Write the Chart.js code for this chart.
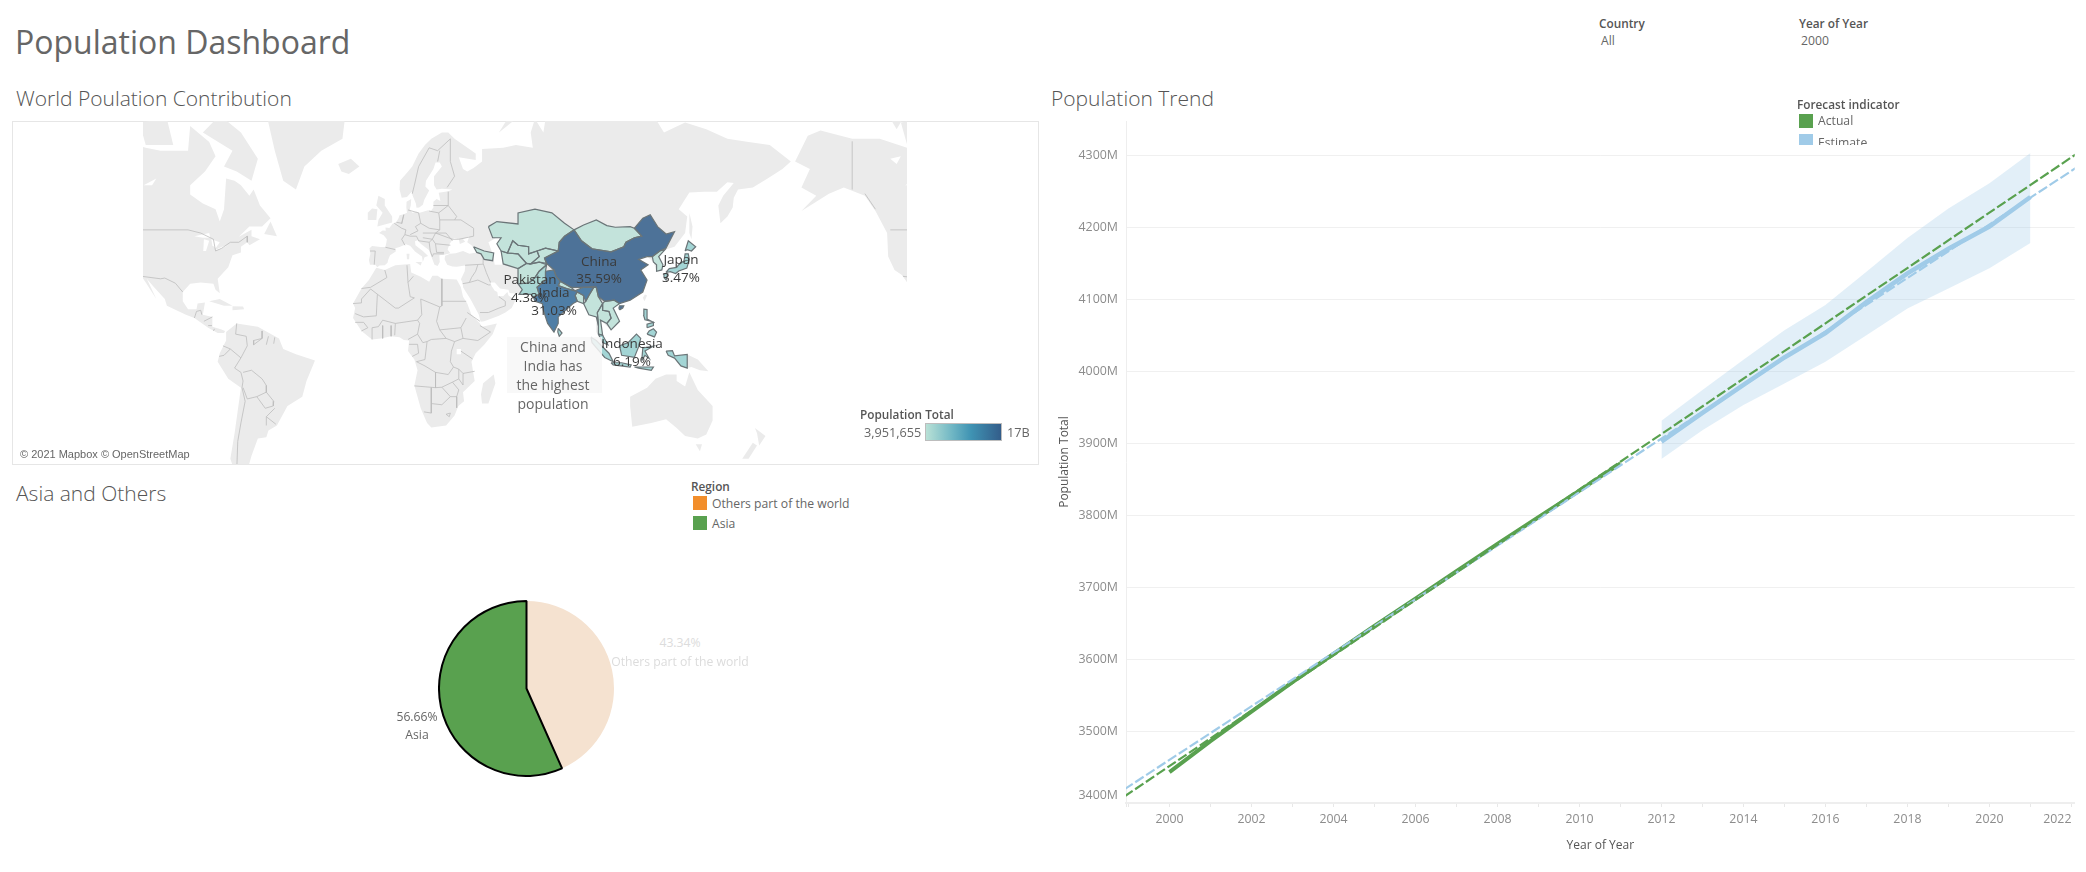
<!DOCTYPE html>
<html>
<head>
<meta charset="utf-8">
<title>Population Dashboard</title>
<script src="https://cdn.jsdelivr.net/npm/chart.js@4"></script>
<style>
  body { margin: 0; width: 2086px; height: 872px; background: #fff; overflow: hidden; position: relative; font-family: "Open Sans", sans-serif; color: #666; }
  canvas { position: absolute; }
  .t { position: absolute; white-space: nowrap; transform: translateY(-53%); font-size: 12.2px; }
  .c { transform: translate(-50%, -53%); }
  .head { font-size: 21px; font-weight: 300; color: #555; }
  .bold { font-weight: 600; color: #555; font-size: 11.8px; }
  .swatch { position: absolute; width: 14px; height: 14px; }
  #frame { position: absolute; left: 12px; top: 121px; width: 1025px; height: 342px; border: 1px solid #e6e6e6; }
  #note { position: absolute; left: 507px; top: 337px; width: 95px; height: 56px; background: #f7f7f7; opacity: .85; }
  #stamp { position: absolute; left: 14px; top: 444px; width: 179px; height: 19px; background: rgba(255,255,255,.7); }
  #ramp { position: absolute; left: 925px; top: 423px; width: 75px; height: 16px; border: 1.5px solid #bdbdbd; background: linear-gradient(to right, #b9e1d6, #6fb6c4 35%, #3f93b3 60%, #335d8a); }
  #fcLegend { position: absolute; left: 1790px; top: 96px; width: 120px; height: 49px; overflow: hidden; }
</style>
</head>
<body>
<div class="t" style="left:15px;top:43px;font-size:32px;color:#666">Population Dashboard</div>
<div class="t head" style="left:16px;top:99px">World Poulation Contribution</div>
<div class="t head" style="left:16px;top:494px">Asia and Others</div>
<div class="t head" style="left:1051px;top:99px">Population Trend</div>

<div class="t bold" style="left:1599px;top:23px">Country</div>
<div class="t" style="left:1601px;top:41px">All</div>
<div class="t bold" style="left:1799px;top:23px">Year of Year</div>
<div class="t" style="left:1801px;top:41px">2000</div>

<div id="frame"></div>
<canvas id="mapChart" width="764" height="343" style="left:143px;top:121px"></canvas>
<div id="stamp"></div>
<div class="t" style="left:20px;top:454px;font:11px 'Liberation Sans',sans-serif;color:#666">© 2021 Mapbox © OpenStreetMap</div>
<div id="note"></div>
<div class="t c" style="left:553px;top:347px;font-size:14px">China and</div>
<div class="t c" style="left:553px;top:366px;font-size:14px">India has</div>
<div class="t c" style="left:553px;top:385px;font-size:14px">the highest</div>
<div class="t c" style="left:553px;top:404px;font-size:14px">population</div>
<div id="mapLabels"></div>

<div class="t bold" style="left:860px;top:414px">Population Total</div>
<div class="t" style="left:864px;top:433px;font-size:12.7px">3,951,655</div>
<div id="ramp"></div>
<div class="t" style="left:1007px;top:433px;font-size:12.7px">17B</div>

<canvas id="pieChart" width="177" height="177" style="left:438px;top:599.5px"></canvas>
<div id="pieLabels"></div>
<div class="t bold" style="left:691px;top:486px">Region</div>
<div class="swatch" style="left:693px;top:496px;background:#f28e2b"></div>
<div class="t" style="left:712px;top:504px">Others part of the world</div>
<div class="swatch" style="left:693px;top:516px;background:#59a14f"></div>
<div class="t" style="left:712px;top:524px">Asia</div>

<canvas id="trendChart" width="1043" height="772" style="left:1043px;top:100px"></canvas>

<div id="fcLegend">
  <div class="t bold" style="left:7px;top:8px">Forecast indicator</div>
  <div class="swatch" style="left:9px;top:18px;background:#59a14f"></div>
  <div class="t" style="left:28px;top:25px">Actual</div>
  <div class="swatch" style="left:9px;top:38px;background:#a0cbe8"></div>
  <div class="t" style="left:28px;top:47px">Estimate</div>
</div>

<script>
/* -----------trend data (millions)------------- */
const years = [2000, 2001, 2002, 2003, 2004, 2005, 2006, 2007, 2008, 2009, 2010, 2011];
const actualValues = [3443, 3486, 3527, 3568, 3607, 3646, 3684, 3722, 3760, 3797, 3834, 3872];
const forecastYears = [2012, 2013, 2014, 2015, 2016, 2017, 2018, 2019, 2020, 2021];
const estimateValues = [3902, 3942, 3981, 4019, 4053, 4096, 4136, 4170, 4201, 4242];
const upperValues = [3931, 3974, 4016, 4057, 4092, 4138, 4185, 4226, 4261, 4303];
const lowerValues = [3878, 3918, 3953, 3983, 4013, 4050, 4087, 4115, 4143, 4178];
const trendYears = [1998.9, 2022.1];
const actualTrend = [3409, 4301];
const estimateTrend = [3419, 4282];
const yTicks = [3400, 3500, 3600, 3700, 3800, 3900, 4000, 4100, 4200, 4300];
const xLabels = [2000, 2002, 2004, 2006, 2008, 2010, 2012, 2014, 2016, 2018, 2020, 2022];
const xMarks = [1999, 2000, 2001, 2002, 2003, 2004, 2005, 2006, 2007, 2008, 2009, 2010, 2011, 2012, 2013, 2014, 2015, 2016, 2017, 2018, 2019, 2020, 2021, 2022];

/* -----------pie data------------- */
const regions = ['Others part of the world', 'Asia'];
const regionShares = [43.34, 56.66];

/* -----------map labels------------- */
const labelNames = ['China', 'Japan', 'Pakistan', 'India', 'Indonesia'];
const labelShares = ['35.59%', '3.47%', '4.38%', '31.03%', '6.19%'];

/* -----------map outlines [lon, lat]------------- */
const africa = [[-6,35.8],[-2,35],[3,36.8],[10,37.3],[10.5,34],[15,32.3],[19,30.3],[20.5,32.7],[23,32.7],[25,31.5],[32,31.2],[34,28],[35,24],[37,21],[39,16],[43,12],[44,10.5],[51,12],[49,7],[45,2],[41,-2],[39,-6],[40.5,-15],[35,-20],[35.5,-24],[32.8,-26],[31,-30],[27,-34],[20,-34.8],[18,-33],[15,-27],[12,-17],[13.5,-10],[12,-5],[9,-1],[9.5,4],[7,4.3],[5,5.5],[1,6],[-4,5],[-8,4.5],[-13,8.5],[-17,14.5],[-16,19],[-17,21],[-13,27.5],[-9.5,31]];
const eurasia = [[-5.5,36],[-6.5,37],[-9,37],[-9.5,38.8],[-8.8,41],[-9.2,43],[-8,43.7],[-4,43.4],[-1.7,43.4],[-1.2,45],[-1,46],[-2.5,47.3],[-4.7,48],[-3,48.8],[-1.5,48.7],[-1.7,49.7],[0.2,49.6],[1.7,50.9],[3.5,51.4],[4.5,52.5],[5,53.3],[7,53.6],[8.5,54],[8.2,55.5],[8.3,57],[10.5,57.7],[10.3,56],[9.8,55],[11,54],[13,54.3],[14.5,54],[18.5,54.7],[19.8,54.5],[21,55.5],[21,57],[22.5,57.7],[24.3,57.2],[23.5,59.2],[28,59.6],[30,60],[25,60.2],[22.5,60],[21.3,61],[21.3,63],[25,65],[24,65.8],[22,65.8],[21,64.5],[17.5,62],[17.2,60.7],[19,59.8],[16.7,57.5],[16,56.2],[14.3,55.5],[13,55.4],[12.7,56.5],[11.2,58.5],[10.7,59.5],[8.5,58.2],[6,58],[5,60],[5.2,62],[8,63.5],[11,65],[14,67.5],[17,69],[20,70],[25,71],[28,71],[31,70],[41,67.5],[41,66.3],[33,66.8],[35,64.5],[37,64],[40,64.7],[44,66],[44,68.3],[54,68.5],[60,69],[68,68.5],[67,71],[69,73],[73,71],[74,73],[80,73],[87,75],[100,76.5],[104,77.5],[112,75],[113,73.5],[125,73.5],[130,71],[140,72.5],[150,71.5],[160,70],[170,69.5],[180,69],[190,66],[186,64.5],[179,62.5],[172,60.5],[165,60],[163,58],[162.5,55.5],[160,53],[156.7,51],[155.7,56],[158,58.5],[163,61.5],[160,61.7],[155,59.5],[149,59.5],[142,59.3],[137,55],[141,53],[140,48],[135,43.5],[130.7,42.5],[127.5,40],[129.5,37],[126.5,34.5],[125,38],[122,40],[118,39],[122.5,37],[119,35],[122,31],[120,26],[114,22.5],[109,21],[106,19],[109,13],[105,9],[100,13.5],[99,10],[103.5,2],[101,3],[98,8],[98,15],[94.5,16],[92,21],[89,22],[87,21],[80,15],[80,12],[78,8],[75,12],[73,18],[72.5,21],[69,22],[67,25],[61.5,25.2],[57,25.6],[56.5,27],[52.5,27.5],[50,30],[48,30],[48.5,28.5],[50,26.5],[51.2,26],[51.5,24.3],[54,24.2],[56,26],[56.5,24.5],[59.8,22.5],[58,19],[55,17],[52,15.5],[45,13],[43.3,12.8],[42.5,16],[38.5,23],[36,26.5],[35,28],[34.9,29.5],[34,31.3],[35.8,34.5],[36,36],[36,36.7],[32,36.2],[30,36.3],[27.5,37],[26.3,39],[26.5,40.3],[29,41],[31.5,41.2],[35,42],[38,41],[41.5,41.5],[39,44],[37,45],[38,47],[35,46],[36,45.2],[33.5,44.4],[33,46],[30.7,46.5],[28.7,44.5],[27.7,42.5],[29,41.2],[26,40.7],[23.8,40.5],[24,38],[23,36.5],[21.5,37],[19.5,41],[19,42.3],[15,44.5],[13.5,45.7],[12.3,45.3],[12.5,44],[16,42],[18.5,40.2],[16.8,39.8],[16,38],[15.6,40],[12.3,41.8],[10,43.8],[8,44.3],[5,43.4],[3,43],[3.2,41.8],[0.5,40.5],[-0.3,39],[-0.7,37.7],[-2,36.8],[-4.5,36.7]];
const northAmerica = [[-168,66],[-162,70.5],[-156,71.3],[-141,70],[-128,70],[-115,68.5],[-108,68],[-95,68],[-94,72],[-85,69.5],[-82,67],[-87,64],[-94,61],[-94,58.8],[-88,56.5],[-82,55],[-80,51.5],[-78,55],[-77,62.5],[-73,62],[-70,61],[-66,58.5],[-64,60],[-61,56],[-56,52.5],[-60,50],[-66,50],[-71,46.8],[-65,49],[-65,47],[-61,46],[-66,44],[-67,45],[-70,43.5],[-70,41.5],[-74,40.5],[-76,36],[-81,31.5],[-80,25.5],[-82,27],[-83,29.5],[-89,30],[-94,29.5],[-97.5,26],[-97.5,22],[-95,18.5],[-91,18.5],[-90.5,21],[-87,21.5],[-88,16],[-83.5,15],[-83.5,10.5],[-79.5,9.3],[-77.5,8.5],[-78,7.5],[-81,7.5],[-85.5,10],[-92,14.5],[-96,16],[-105,20],[-106,23],[-112,29],[-114.5,31.5],[-110,23],[-115,30],[-117.5,33],[-121,35],[-124,40],[-124.5,48],[-130,54.5],[-135,58.5],[-145,60.5],[-152,59],[-165,54.5],[-158,58.5],[-165,60.5],[-161,64.5]];
const southAmerica = [[-77,8],[-72,12],[-62,10.5],[-52,5],[-50,0],[-44,-2.5],[-35,-5.5],[-39,-15],[-41,-22],[-48,-26],[-53,-34],[-57,-36],[-58,-38.5],[-62,-39],[-65,-45],[-68,-52],[-72,-52],[-75,-46],[-73,-37],[-70,-18],[-76,-14],[-81,-6],[-80,-2],[-77,4]];
const australia = [[114,-22],[122,-18],[126,-14],[131,-12],[136,-12],[136,-15],[140,-17.5],[142,-11],[146,-19],[153,-26],[153,-32],[150,-37.5],[146,-39],[140,-38],[136,-35],[131,-31.5],[124,-33],[115,-34.5],[114,-26]];
const islands = [
  [[-5.5,50],[1.5,51.2],[1.5,53],[-2,56],[-2,57.7],[-5,58.5],[-6,56],[-3,54],[-5,52]],
  [[-10,52],[-6,52],[-5.5,55],[-8,55.2],[-10,54]],
  [[-24,65.5],[-18,66.5],[-14,65],[-19,63.5],[-22.5,64]],
  [[49.5,-12],[50.3,-16],[47,-25],[44,-25],[43.5,-21],[44.5,-16]],
  [[-85,22],[-80,23],[-74,20],[-78,20]],
  [[-74,19.8],[-69,19.7],[-68.5,18.5],[-74,18]],
  [[142,54],[143.5,50],[143,46],[142,48]],
  [[167,-46],[172,-40.5],[174,-41.5],[170,-46]],
  [[173,-35],[178,-38],[175,-41.5],[174,-37]],
  [[145,-41],[148,-41],[147,-43.5]],
  [[141,-2.6],[146,-5],[151,-10.5],[147,-10],[143,-8.5],[141,-9]],
  [[12.5,38],[15.5,38],[15,36.7]],
  [[52,71],[56,73],[68,77],[60,73]],
  [[121,25],[122,24.5],[120.8,22],[120,23.5]],
  [[8.3,41],[9.7,41],[9.5,39],[8.5,39]],
];
const arcticCanada = [
  [[-73,78],[-60,82],[-30,83],[-20,75],[-22,70],[-32,68],[-40,65],[-44,60],[-50,62],[-54,68],[-60,76]],
  [[-80,73.5],[-70,71],[-62,66.5],[-65,62],[-72,64],[-78,65],[-74,68],[-88,71]],
  [[-118,72.5],[-105,73],[-102,69],[-115,69]],
  [[-125,74],[-115,74],[-120,71.5]],
  [[-100,76],[-80,76],[-80,74.5],[-100,74]],
  [[-59,47.7],[-56,51.5],[-53,47]],
];
const waters = [
  [[-92,47],[-85,48],[-84.5,46.5],[-88,46.5]],
  [[-87.5,46],[-85,45.5],[-86.5,42],[-87.8,42]],
  [[-84,46],[-80,45],[-82,43],[-83.5,44]],
  [[-83,42],[-79,43],[-76,44],[-79,43.5]],
  [[-123,66.5],[-118,67],[-120,65.5]],
  [[-116,61],[-110,62.5],[-112,61]],
  [[47,45],[52,47],[53,42],[54,37],[50,37],[49,41]],
  [[32,0],[34,0],[34,-2.5],[32,-2.5]],
];
const borders = [
  [[-2,35],[-1,32],[-8.7,28],[-13,27.5]],[[-17,21],[-13,21.3],[-13,23],[-8.7,27.3]],[[9,30],[10,24],[12,23.5]],[[-8.7,27.3],[3,19],[4.5,19],[12,23.5]],[[8.5,36.8],[9,30],[11.5,32.5]],[[25,31.5],[25,20]],[[25,22],[36.5,22]],[[15,23],[24,19.5],[25,20]],[[24,19.5],[22.5,13],[24,9]],[[15,23],[15.5,16],[13.5,13.5]],[[3,12],[13.5,13.5],[14.5,12],[13.5,7],[9,4.5]],[[-16,16.5],[-12,15],[-6,15.5],[-5.5,25]],[[-5,10.5],[-3,13.5],[3,12]],[[1,11],[1,6]],[[3,12],[2.7,6.5]],[[-3,11],[-3,5]],[[-8,4.5],[-8,10],[-5,10.5]],[[-13,8.5],[-10,10],[-12,12.5],[-16,12.5]],[[24,9],[34,10]],[[36.5,14.5],[34,10],[35,5],[42,4],[48,8],[43,11]],[[37,17],[43,13]],[[24,9],[27,5],[31,3.5],[35,5]],[[13,-6],[17,-5],[18,3.5],[20,4.5],[27,5]],[[13.5,7],[16,3],[18,3.5]],[[34,-1],[39.5,-4.7]],[[31,3.5],[29.5,-1],[29,-6],[30.5,-8.5],[28,-12],[22,-11]],[[13,-6],[17,-8],[22,-11],[22,-18],[12,-17.2]],[[22,-18],[25,-17.8],[30,-15.5],[33,-14],[33,-9.5],[30.5,-8.5]],[[33,-9.5],[35,-11.5],[40.5,-10.5]],[[33,-14],[35,-16.8],[35,-11.5]],[[25,-17.8],[29,-22],[32,-22],[33,-19],[30,-15.5]],[[20,-18],[20,-29],[16.5,-28.5]],[[20,-25],[25,-25.5],[29,-22]],[[27,-29.5],[29,-29],[28.5,-30.5],[27,-29.5]],[[32,-22],[32,-26.8]],[[9.5,2.2],[13.5,2.2],[14,-2],[11,-3.5]],
  [[-92,14.5],[-91,17.5],[-89,18],[-88.5,16]],[[-87.5,13],[-83.5,15]],[[-85.5,11],[-83.7,11]],[[-83,8.5],[-82.5,9.5]],
  [[-72,12],[-72.5,7],[-67.5,6],[-67,1.5]],[[-67,1.5],[-70,-4.2],[-75,0],[-78.5,1.5]],[[-60,8.5],[-60,5],[-64,4],[-64,2],[-60,5]],[[-57,6],[-58,2]],[[-54,5.5],[-54.5,2.5]],[[-70,-4.2],[-73,-9],[-70,-11],[-69,-15],[-69.5,-18]],[[-69,-11],[-65,-10],[-60,-14],[-58,-17],[-58,-20],[-62.5,-22],[-67,-23],[-69,-18]],[[-58,-20],[-54.5,-24],[-54.7,-26],[-58.5,-27],[-62.5,-22]],[[-69.5,-18],[-68,-24],[-70,-33],[-71.5,-40],[-72,-50],[-69,-52]],[[-58,-34],[-58,-30.5],[-53.5,-33.5]],[[-58,-30.5],[-54,-27]],[[-80.3,-3.5],[-78,-3],[-75,0]],
  [[34.8,29.5],[38,30],[42,31],[47,29],[48,29]],[[48,30],[46,34],[44.5,37.5],[44.5,39.5]],[[36,36.8],[44.5,37.2]],[[42,37],[41,34.5],[39,32],[38,30]],[[43,17],[47,17],[52,19],[55,20],[55,22],[52,24]],
  [[-1.7,43.3],[3,42.5]],[[-9,42],[-6.5,42],[-7,37]],[[2.5,51],[6,49.5],[8,49],[7.5,47.5],[6,46],[7.5,44]],[[7.5,47.5],[10,47],[13,47],[13.7,46],[14,45.5]],[[7,53.5],[6,50.8]],[[9,54.8],[14,54]],[[14,54],[15,51],[12.5,50],[13.7,48.7],[10,47.5]],[[15,51],[19,49.5],[24,49],[24,52],[23.5,54],[19,54.5]],[[21,56],[28,56],[28,59.5]],[[23.5,54],[28,56]],[[24,52],[31,52],[32,53],[28,56]],[[24,49],[22,48],[30,46],[33,46],[40,47],[40,49.5],[34,52],[31,52]],[[22,48],[27,48],[30,45.5]],[[22,44.5],[29,44]],[[20.5,46],[22,44.5]],[[16,48],[22,48],[20.5,46],[16,46.5]],[[14,45.5],[19,45],[20.5,46]],[[19,45],[19.5,42],[20.5,40],[21,41],[26,41]],[[22,44.5],[22.5,41.5],[26,41.5]],[[11,59],[12,61],[14,65],[19,68.5],[23,68],[29,70]],[[23,66],[24,68]],[[27.5,60.5],[31,63],[29,66],[29,70]],[[3.5,51.3],[6,51],[7,53.5]],
];
const northAmericaBorders = [
  [[-141,60],[-141,69.6]],[[-135,59],[-130,55]],[[-123,49],[-95,49],[-89,48],[-83,46],[-82,42],[-79,43],[-75,45],[-71,45],[-67,47],[-67,45]],
  [[-117,32.5],[-108,31.5],[-106,31.8],[-101,29.7],[-97.5,26]],
];

/* -----------highlighted countries------------- */
const china = [[73.5,39.5],[80,42],[80.5,45],[83,47],[87.5,49],[91,45.5],[96,42.8],[105,41.7],[111,43.5],[112,45],[116,46.5],[119.5,47],[116,49.5],[120,52.5],[123.5,53.5],[127,50],[131,47.7],[135,48.4],[131,43],[128,42],[124.5,40],[122,40],[118,39],[122.5,37],[119,35],[122,31],[120,26],[114,22.5],[109,21],[106.5,22.5],[102,22],[99,24],[98,28],[92,28],[86,28],[81,30.5],[79,32.5],[78,35],[74.5,37.5]];
const hainan = [[109,18.2],[110.5,19],[111,20],[109,20],[108.7,19]];
const india = [[74,34.5],[78,35],[79,32.5],[81,30.5],[80,28.7],[84,27.5],[88,26.5],[89,27],[92,28],[97,28.3],[94.5,24.5],[93,22],[92,24.5],[89,26],[88,24.5],[89,22],[87,21],[80,15],[80,12],[78,8],[75,12],[73,18],[72.5,21],[69,22],[68.3,23.8],[71,25],[70,28],[74,31]];
const pakistan = [[74,34.5],[74,31],[70,28],[71,25],[68.3,23.8],[67,25],[61.5,25],[63,27],[61,29.5],[66,29.7],[69,32],[71,34.5],[74.5,37]];
const paleLands = [
  [[47,50],[51,51.5],[61,50.8],[61,54],[69,55],[77,54],[83,51],[87.5,49],[83,47],[80.5,45],[80,42],[74,43],[70,42],[66,41],[66,43.5],[61,44],[58.5,45.5],[56,41.3],[53,42],[51,44.5],[53,46.5],[49,46.5]],
  [[87.5,49],[92,50.5],[98,52],[103,50.3],[107,49.8],[114,50],[116,49.5],[119.5,47],[116,46.5],[112,45],[111,43.5],[105,41.7],[96,42.8],[91,45.5]],
  [[56,41.3],[58.5,45.5],[61,44],[66,43.5],[66,41],[70,42],[71,40],[67,37.3],[65,37.5],[61,41]],
  [[53,42],[56,41.3],[61,41],[65,37.5],[61,35.5],[54,37.3]],
  [[70,42],[74,43],[80,42],[73.5,39.5],[74.5,37.5],[71,38],[67,37.3],[71,40]],
  [[61,29.5],[66,29.7],[69,32],[71,34.5],[74.5,37],[71,38],[67,37.3],[65,37.5],[61,35.5]],
  [[40,43.5],[45,42],[49.5,41.3],[49,38.5],[45,39],[43.5,41],[41.5,41.5]],
  [[80,28.7],[84,27.5],[88,26.5],[86,28],[81,30.5]],
  [[88,24.5],[89,26],[92,24.5],[92,21],[89,22]],
  [[92,21],[93,22],[94.5,24.5],[97,28.3],[98,28],[99,24],[101,21],[98.5,17],[99,11],[98,15],[94.5,16]],
  [[101,21],[98.5,17],[99,11],[99,7],[101,6.5],[100,13.5],[103,12],[105,14.5],[104,17.5],[101,18]],
  [[102,22],[106.5,22.5],[109,21],[106,19],[109,13],[105,9],[103,12],[105,14.5],[104,17.5],[101,18],[101,21]],
  [[124.5,40],[128,42],[130.5,42.5],[127.5,40],[129.5,37],[129,35],[126.5,34.5],[126.5,37],[125,38]],
];
const midLands = [
  [[99,7],[101,6.5],[103.5,2],[101,3]],
  [[95.5,5.5],[98,4],[104,-2],[106,-6],[102,-4],[96,3]],
  [[105,-6.5],[110,-6.5],[114.5,-7.5],[114,-8.5],[106,-7.5]],
  [[109,1.5],[113,3],[117,7],[119,5],[118,1],[116,-4],[110,-3]],
  [[119.5,-5.5],[120,0.5],[125,1.3],[121,-1],[123,-4.5],[121,-3]],
  [[131,-1],[134,-0.8],[135,-3.3],[141,-2.6],[141,-9],[138,-8],[135,-4.3],[132,-3]],
  [[116,-8.5],[125,-8.5],[124,-10],[118,-9]],
  [[120.3,16],[120.5,18.5],[122,18.3],[122,14],[124,13],[121,13.7]],
  [[122,7],[125.5,5.7],[126.5,8],[125,9.5],[123,8.5]],
  [[122,10],[125,11],[125,12.5],[122,11.7]],
  [[130.9,34],[132.5,35.5],[136,36],[137,37],[139.5,38.5],[140,41],[141.5,41],[142,39],[140.8,35.7],[137,34.6],[135.5,33.6],[133,34.3]],
  [[130,33.5],[131.8,33.5],[131,31],[130,32]],
  [[140,42],[141.5,45.5],[145,43.5],[143,42],[141,42.5]],
  [[80,9.7],[81.8,7.5],[80.5,6],[79.8,8]],
];

const landColor = '#ebebeb';
const borderColor = '#bdbdbd';
const outlineColor = '#6b7578';

// mercator, so the map keeps its real latitude spacing
function merc(lat) {
  return Math.log(Math.tan(Math.PI / 4 + lat * Math.PI / 360));
}
function toPoints(outline, shift) {
  return outline.map(p => ({ x: p[0] + (shift || 0), y: merc(p[1]) }));
}
function area(outline, color, shift) {
  return { data: toPoints(outline, shift), polyFill: color, showLine: false, pointRadius: 0, order: 3 };
}
function shape(outline, color) {
  let pts = toPoints(outline.concat([outline[0]]));
  return { data: pts, polyFill: color, showLine: true, borderColor: outlineColor, borderWidth: 1.2, pointRadius: 0, order: 0 };
}
function line(outline, shift) {
  return { data: toPoints(outline, shift), showLine: true, borderColor: borderColor, borderWidth: 0.8, pointRadius: 0, order: 1 };
}

let mapSets = [];
[africa, eurasia, southAmerica, australia].concat(islands).forEach(o => mapSets.push(area(o, landColor)));
[northAmerica].concat(arcticCanada).forEach(o => {
  mapSets.push(area(o, landColor));
  mapSets.push(area(o, landColor, 360));
});
waters.forEach(o => {
  mapSets.push(area(o, '#ffffff'));
  mapSets.push(area(o, '#ffffff', 360));
});
borders.forEach(o => mapSets.push(line(o)));
northAmericaBorders.forEach(o => {
  mapSets.push(line(o));
  mapSets.push(line(o, 360));
});
paleLands.forEach(o => mapSets.push(shape(o, '#c3e3db')));
midLands.forEach(o => mapSets.push(shape(o, '#a3d5d5')));
mapSets.push(shape(pakistan, '#aad8d5'));
mapSets.push(shape(india, '#4f7ea6'));
mapSets.push(shape(china, '#4d7298'));
mapSets.push(shape(hainan, '#4d7298'));

// chart.js has no map type, the filled countries are drawn from the scatter points
const polygonFill = {
  id: 'polygonFill',
  beforeDatasetsDraw(chart) {
    let ctx = chart.ctx;
    ctx.save();
    chart.data.datasets.forEach((ds, i) => {
      if (!ds.polyFill) return;
      let pts = chart.getDatasetMeta(i).data;
      ctx.beginPath();
      pts.forEach((p, j) => j ? ctx.lineTo(p.x, p.y) : ctx.moveTo(p.x, p.y));
      ctx.closePath();
      ctx.fillStyle = ds.polyFill;
      ctx.fill();
    });
    ctx.restore();
  }
};

new Chart(document.getElementById('mapChart'), {
  type: 'scatter',
  data: { datasets: mapSets },
  plugins: [polygonFill],
  options: {
    responsive: false,
    animation: false,
    events: [],
    plugins: { legend: { display: false }, tooltip: { enabled: false } },
    scales: {
      x: { type: 'linear', display: false, min: -116.3, max: 244.9 },
      y: { type: 'linear', display: false, min: -0.95, max: 1.883 }
    }
  }
});

/* -----------map and pie text------------- */
const labelSpots = [[599, 262, 279], [681, 260, 278], [530, 280, 298], [554, 293, 311], [632, 344, 362]];
let mapLabelBox = document.getElementById('mapLabels');
labelNames.forEach((name, i) => {
  let s = labelSpots[i];
  mapLabelBox.innerHTML += `<div class="t c" style="left:${s[0]}px;top:${s[1]}px;font-size:13.5px;color:#3a3a3a">${name}</div>`
    + `<div class="t c" style="left:${s[0]}px;top:${s[2]}px;font-size:13.5px;color:#3a3a3a">${labelShares[i]}</div>`;
});
document.getElementById('pieLabels').innerHTML =
  `<div class="t c" style="left:680px;top:643px;color:#dcdcdc">${regionShares[0].toFixed(2)}%</div>`
  + `<div class="t c" style="left:680px;top:662px;color:#dcdcdc">${regions[0]}</div>`
  + `<div class="t c" style="left:417px;top:717px">${regionShares[1].toFixed(2)}%</div>`
  + `<div class="t c" style="left:417px;top:735px">${regions[1]}</div>`;

/* -----------pie------------- */
new Chart(document.getElementById('pieChart'), {
  type: 'pie',
  data: {
    labels: regions,
    datasets: [{
      data: regionShares,
      backgroundColor: ['#f5e2d0', '#59a14f'],
      borderColor: ['#f5e2d0', '#000000'],
      borderWidth: [0, 2]
    }]
  },
  options: {
    responsive: false,
    animation: false,
    plugins: { legend: { display: false }, tooltip: { enabled: false } }
  }
});

/* -----------trend------------- */
function xy(xs, ys) {
  return xs.map((x, i) => ({ x: x, y: ys[i] }));
}
const green = '#59a14f';
const blue = '#a0cbe8';

new Chart(document.getElementById('trendChart'), {
  type: 'line',
  data: {
    datasets: [
      { label: 'Actual trend', data: xy(trendYears, actualTrend), borderColor: green, borderWidth: 2.2, borderDash: [10, 3], pointRadius: 0, order: 1 },
      { label: 'Estimate trend', data: xy(trendYears, estimateTrend), borderColor: blue, borderWidth: 2.2, borderDash: [10, 3], pointRadius: 0, order: 2 },
      { label: 'Actual', data: xy(years, actualValues), borderColor: green, borderWidth: 4, pointRadius: 0, order: 3 },
      { label: 'Estimate', data: xy(forecastYears, estimateValues), borderColor: blue, borderWidth: 4.5, pointRadius: 0, order: 3 },
      { label: 'Lower', data: xy(forecastYears, lowerValues), borderWidth: 0, pointRadius: 0, fill: false, order: 4 },
      { label: 'Upper', data: xy(forecastYears, upperValues), borderWidth: 0, pointRadius: 0, fill: '-1', backgroundColor: 'rgba(160,203,232,.3)', order: 4 }
    ]
  },
  options: {
    responsive: false,
    animation: false,
    layout: { padding: { right: 11.3, top: 21 } },
    plugins: { legend: { display: false }, tooltip: { enabled: false } },
    scales: {
      x: {
        type: 'linear',
        min: 1998.94,
        max: 2022.08,
        afterFit(scale) { scale.height = 69; },
        afterBuildTicks(scale) {
          // blank first tick, so 'inner' only pushes the 2022 label back
          scale.ticks = [{ value: scale.min }].concat(xMarks.map(v => ({ value: v })));
        },
        grid: { drawOnChartArea: false, color: '#e8e8e8', tickLength: 4 },
        border: { color: '#eeeeee', width: 2 },
        ticks: {
          autoSkip: false,
          maxRotation: 0,
          align: 'inner',
          padding: 5,
          color: '#8c8c8c',
          font: { family: 'Open Sans', size: 12.3 },
          callback: v => xLabels.includes(v) ? String(v) : ''
        },
        title: { display: true, text: 'Year of Year', color: '#555', font: { family: 'Open Sans', size: 12, weight: 500 }, padding: { top: 0, bottom: 19 } }
      },
      y: {
        type: 'linear',
        min: 3400,
        max: 4347.6,
        afterFit(scale) { scale.width = 83; },
        afterBuildTicks(scale) { scale.ticks = yTicks.map(v => ({ value: v })); },
        grid: { color: '#f0f0f0', drawTicks: false },
        border: { color: '#eeeeee' },
        ticks: {
          padding: 8,
          color: '#8c8c8c',
          font: { family: 'Open Sans', size: 12.4 },
          // 3400M sits on the axis floor, the empty line lifts it up
          callback: v => v === 3400 ? ['3400M', ''] : v + 'M'
        },
        title: { display: true, text: 'Population Total', color: '#555', font: { family: 'Open Sans', size: 12, weight: 500 }, padding: { top: 14, bottom: 0 } }
      }
    }
  }
});
</script>
</body>
</html>
